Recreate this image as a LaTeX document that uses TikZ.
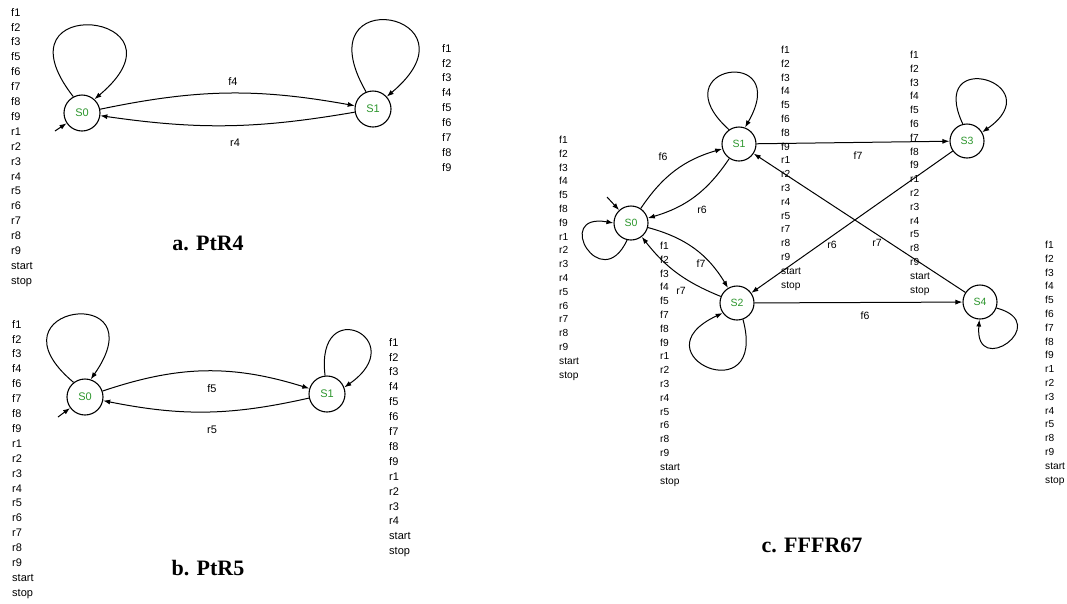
\documentclass[tikz,border=0pt]{standalone}
\usepackage{fontspec}
\setmainfont{Liberation Sans}
\newfontfamily\titlefont{Liberation Serif}
\usetikzlibrary{arrows.meta}
\definecolor{stgreen}{RGB}{45,150,45}
\begin{document}
\begin{tikzpicture}[x=1pt,y=1pt,
 state/.style={circle,draw,line width=1.1pt,minimum size=36pt,inner sep=0pt,text=stgreen,font=\fontsize{11}{12}\selectfont},
 cstate/.style={state,minimum size=34pt,font=\fontsize{10.5}{12}\selectfont},
 tr/.style={line width=1pt,-{Latex[length=7pt,width=5pt]}},
 lbl/.style={inner sep=0pt,font=\fontsize{11}{12}\selectfont},
 clbl/.style={inner sep=0pt,font=\fontsize{10.5}{12}\selectfont},
 lista/.style={anchor=north west,inner sep=0pt,align=left,font=\fontsize{11}{14.9}\selectfont},
 listc/.style={anchor=north west,inner sep=0pt,align=left,font=\fontsize{10.2}{13.8}\selectfont},
 ttl/.style={inner sep=0pt,font=\titlefont\bfseries\fontsize{22}{26}\selectfont}
]
\useasboundingbox[fill=white] (0,0) rectangle (1067,-603);

% ---------- a. PtR4 ----------
\node[state] (a0) at (82,-113) {S0};
\node[state] (a1) at (373,-109) {S1};
\draw[tr] (a0.118) .. controls +(128:135) and +(40:135) .. (a0.48);
\draw[tr] (a1.112) .. controls +(120:130) and +(40:130) .. (a1.42);
\draw[tr] (a0) to[bend left=11] (a1);
\draw[tr] (a1) to[bend left=9] (a0);
\coordinate (a0i) at (55,-131);
\draw[tr] (a0i) -- (a0);
\node[lbl] (af4) at (233,-82) {f4};
\node[lbl] (ar4) at (235,-143) {r4};
\node[lista] (al) at (11,-8) {f1\\f2\\f3\\f5\\f6\\f7\\f8\\f9\\r1\\r2\\r3\\r4\\r5\\r6\\r7\\r8\\r9\\start\\stop};
\node[lista] (ar) at (442,-44) {f1\\f2\\f3\\f4\\f5\\f6\\f7\\f8\\f9};
\node[ttl] (at) at (208,-243) {a. PtR4};

% ---------- b. PtR5 ----------
\node[state] (b0) at (85,-397) {S0};
\node[state] (b1) at (327,-394) {S1};
\draw[tr] (b0.128) .. controls +(140:120) and +(55:120) .. (b0.72);
\draw[tr] (b1.96) .. controls +(97:84) and +(35:84) .. (b1.21);
\draw[tr] (b0) to[bend left=18] (b1);
\draw[tr] (b1) to[bend left=12] (b0);
\coordinate (b0i) at (58,-417);
\draw[tr] (b0i) -- (b0);
\node[lbl] (bf5) at (212,-389) {f5};
\node[lbl] (br5) at (212,-430) {r5};
\node[lista] (bl) at (12,-320) {f1\\f2\\f3\\f4\\f6\\f7\\f8\\f9\\r1\\r2\\r3\\r4\\r5\\r6\\r7\\r8\\r9\\start\\stop};
\node[lista] (br) at (389,-338) {f1\\f2\\f3\\f4\\f5\\f6\\f7\\f8\\f9\\r1\\r2\\r3\\r4\\start\\stop};
\node[ttl] (bt) at (208,-568) {b. PtR5};

% ---------- c. FFFR67 ----------
\node[cstate] (c0) at (631,-223) {S0};
\node[cstate] (c1) at (739,-144) {S1};
\node[cstate] (c2) at (737,-303) {S2};
\node[cstate] (c3) at (967,-141) {S3};
\node[cstate] (c4) at (980,-302) {S4};
\draw[tr] (c0.257) .. controls +(245:62) and +(170:62) .. (c0.180);
\draw[tr] (c1.125) .. controls +(138:96) and +(60:96) .. (c1.70);
\draw[tr] (c2.290) .. controls +(285:98) and +(205:98) .. (c2.215);
\draw[tr] (c3.104) .. controls +(115:86) and +(35:86) .. (c3.30);
\draw[tr] (c4.340) .. controls +(345:60) and +(265:60) .. (c4.268);
\draw[tr] (c0) to[bend left=20] (c1);
\draw[tr] (c1) to[bend left=20] (c0);
\draw[tr] (c0) to[bend left=22] (c2);
\draw[tr] (c2) to[bend left=15] (c0);
\draw[tr] (c1) -- (c3);
\draw[tr] (c3) -- (c2);
\draw[tr] (c4) -- (c1);
\draw[tr] (c2) -- (c4);
\coordinate (c0i) at (607,-197);
\draw[tr] (c0i) -- (c0);
\node[clbl] (cf6a) at (663,-157) {f6};
\node[clbl] (cr6a) at (702,-210) {r6};
\node[clbl] (cf7a) at (701,-264) {f7};
\node[clbl] (cr7a) at (681,-291) {r7};
\node[clbl] (cf7b) at (858,-156) {f7};
\node[clbl] (cr6b) at (832,-245) {r6};
\node[clbl] (cr7b) at (877,-243) {r7};
\node[clbl] (cf6b) at (865,-316) {f6};
\node[listc] (cl0) at (559,-136) {f1\\f2\\f3\\f4\\f5\\f8\\f9\\r1\\r2\\r3\\r4\\r5\\r6\\r7\\r8\\r9\\start\\stop};
\node[listc] (cl2) at (660,-242) {f1\\f2\\f3\\f4\\f5\\f7\\f8\\f9\\r1\\r2\\r3\\r4\\r5\\r6\\r8\\r9\\start\\stop};
\node[listc] (cl1) at (781,-46) {f1\\f2\\f3\\f4\\f5\\f6\\f8\\f9\\r1\\r2\\r3\\r4\\r5\\r7\\r8\\r9\\start\\stop};
\node[listc] (cl3) at (910,-51) {f1\\f2\\f3\\f4\\f5\\f6\\f7\\f8\\f9\\r1\\r2\\r3\\r4\\r5\\r8\\r9\\start\\stop};
\node[listc] (cl4) at (1045,-241) {f1\\f2\\f3\\f4\\f5\\f6\\f7\\f8\\f9\\r1\\r2\\r3\\r4\\r5\\r8\\r9\\start\\stop};
\node[ttl] (ct) at (812,-545) {c. FFFR67};
\end{tikzpicture}
\end{document}
